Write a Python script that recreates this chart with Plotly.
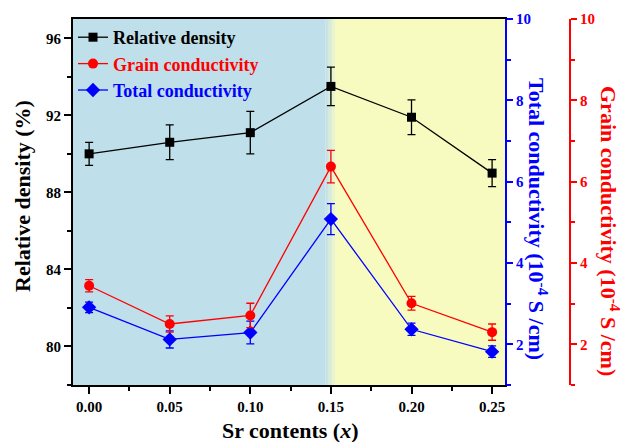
import plotly.graph_objects as go

# ---------------- data ----------------
sr_x = [0.00, 0.05, 0.10, 0.15, 0.20, 0.25]

density = [90.0, 90.6, 91.1, 93.5, 91.9, 89.0]
density_err = [0.6, 0.9, 1.1, 1.0, 0.9, 0.7]

grain_cond = [3.44, 2.50, 2.71, 6.37, 3.01, 2.30]
grain_err = [0.15, 0.20, 0.30, 0.40, 0.17, 0.20]

total_cond = [2.91, 2.12, 2.29, 5.08, 2.37, 1.82]
total_err = [0.13, 0.21, 0.28, 0.38, 0.15, 0.14]

x_ticks = [0.00, 0.05, 0.10, 0.15, 0.20, 0.25]
x_tick_labels = ["0.00", "0.05", "0.10", "0.15", "0.20", "0.25"]
left_ticks = [80, 84, 88, 92, 96]
right_ticks = [2, 4, 6, 8, 10]

# region boundaries (Sr content)
x_min, x_max, x_split = -0.01, 0.258, 0.15

FONT = "Liberation Serif"
BLUE_BG = (191, 223, 234)
YEL_BG = (248, 251, 192)

fig = go.Figure()

fig.add_trace(go.Scatter(
    x=sr_x, y=density, yaxis="y", mode="lines+markers",
    name="<b><span style='color:black'>Relative density</span></b>",
    line=dict(color="black", width=1.3),
    marker=dict(symbol="square", size=9, color="black"),
    error_y=dict(type="data", array=density_err, color="black", thickness=1.3, width=4),
))
fig.add_trace(go.Scatter(
    x=sr_x, y=grain_cond, yaxis="y3", mode="lines+markers",
    name="<b><span style='color:#ff0000'>Grain conductivity</span></b>",
    line=dict(color="#ff0000", width=1.3),
    marker=dict(symbol="circle", size=10, color="#ff0000"),
    error_y=dict(type="data", array=grain_err, color="#ff0000", thickness=1.3, width=4),
))
fig.add_trace(go.Scatter(
    x=sr_x, y=total_cond, yaxis="y2", mode="lines+markers",
    name="<b><span style='color:#0000ff'>Total conductivity</span></b>",
    line=dict(color="#0000ff", width=1.3),
    marker=dict(symbol="diamond", size=11, color="#0000ff"),
    error_y=dict(type="data", array=total_err, color="#0000ff", thickness=1.3, width=4),
))

# background regions with soft edge
shapes = []
g0, g1 = 0.1465, 0.1535
shapes.append(dict(type="rect", xref="x", yref="paper", x0=x_min, x1=g0, y0=0, y1=1,
                   fillcolor="rgb(%d,%d,%d)" % BLUE_BG, line=dict(width=0), layer="below"))
shapes.append(dict(type="rect", xref="x", yref="paper", x0=g1, x1=x_max, y0=0, y1=1,
                   fillcolor="rgb(%d,%d,%d)" % YEL_BG, line=dict(width=0), layer="below"))
n = 8
for i in range(n):
    t = (i + 0.5) / n
    c = tuple(round(BLUE_BG[k] + (YEL_BG[k] - BLUE_BG[k]) * t) for k in range(3))
    shapes.append(dict(type="rect", xref="x", yref="paper",
                       x0=g0 + (g1 - g0) * i / n, x1=g0 + (g1 - g0) * (i + 1) / n + 0.0002,
                       y0=0, y1=1, fillcolor="rgb(%d,%d,%d)" % c, line=dict(width=0), layer="below"))

L, R_MARGIN, T, B = 73, 40, 19, 57
W, H = 625, 442
plot_w = W - L - R_MARGIN
plot_h = H - T - B
dom_end = (505 - L) / plot_w

def px_x(px):
    return (px - L) / plot_w

def px_y(py):
    return 1 - (py - T) / plot_h

tickfont_l = dict(family=FONT, size=15, color="black")

fig.update_layout(
    width=W, height=H,
    margin=dict(l=L, r=R_MARGIN, t=T, b=B, pad=0),
    paper_bgcolor="white", plot_bgcolor="white",
    font=dict(family=FONT, color="black"),
    shapes=shapes,
    showlegend=True,
    legend=dict(x=0.0, y=1.0, xanchor="left", yanchor="top",
                bgcolor="rgba(0,0,0,0)", borderwidth=0,
                font=dict(family=FONT, size=18, color="black"),
                itemwidth=30, tracegroupgap=0),
    xaxis=dict(
        domain=[0, dom_end], range=[x_min, x_max],
        tickvals=x_ticks, ticktext=[f"<b>{t}</b>" for t in x_tick_labels],
        ticks="outside", ticklen=7, tickwidth=1.5, tickcolor="black",
        minor=dict(dtick=0.025, tick0=0, ticks="outside", ticklen=4, tickwidth=1.5, tickcolor="black"),
        showline=True, linecolor="black", linewidth=2, mirror=True,
        showgrid=False, zeroline=False, tickfont=tickfont_l,
    ),
    yaxis=dict(
        range=[78, 97], tickvals=left_ticks, ticktext=[f"<b>{t}</b>" for t in left_ticks],
        ticks="outside", ticklen=7, tickwidth=1.5, tickcolor="black",
        minor=dict(dtick=2, tick0=78, ticks="outside", ticklen=4, tickwidth=1.5, tickcolor="black"),
        showline=True, linecolor="black", linewidth=2,
        showgrid=False, zeroline=False, tickfont=tickfont_l,
    ),
    yaxis2=dict(
        range=[1, 10], overlaying="y", side="right", anchor="x",
        tickvals=right_ticks, ticktext=[f"<b>{t}</b>" for t in right_ticks],
        ticks="outside", ticklen=6, tickwidth=1.5, tickcolor="#0000ff",
        minor=dict(dtick=1, tick0=1, ticks="outside", ticklen=4, tickwidth=1.5, tickcolor="#0000ff"),
        showline=True, linecolor="#0000ff", linewidth=2,
        showgrid=False, zeroline=False,
        tickfont=dict(family=FONT, size=15, color="#0000ff"),
    ),
    yaxis3=dict(
        range=[1, 10], overlaying="y", side="right", anchor="free", position=px_x(570),
        tickvals=right_ticks, ticktext=[f"<b>{t}</b>" for t in right_ticks],
        ticks="outside", ticklen=6, tickwidth=1.5, tickcolor="#ff0000",
        minor=dict(dtick=1, tick0=1, ticks="outside", ticklen=4, tickwidth=1.5, tickcolor="#ff0000"),
        showline=True, linecolor="#ff0000", linewidth=2,
        showgrid=False, zeroline=False,
        tickfont=dict(family=FONT, size=15, color="#ff0000"),
    ),
    annotations=[
        dict(text="<b>Relative density (%)</b>", xref="paper", yref="paper",
             x=px_x(22), y=px_y(196), textangle=-90, showarrow=False,
             xanchor="center", yanchor="middle",
             font=dict(family=FONT, size=22, color="black")),
        dict(text="<b>Total conductivity (10<sup>-4</sup> S /cm)</b>", xref="paper", yref="paper",
             x=px_x(538), y=px_y(219), textangle=90, showarrow=False,
             xanchor="center", yanchor="middle",
             font=dict(family=FONT, size=22, color="#0000ff")),
        dict(text="<b>Grain conductivity (10<sup>-4</sup> S /cm)</b>", xref="paper", yref="paper",
             x=px_x(610), y=px_y(231), textangle=90, showarrow=False,
             xanchor="center", yanchor="middle",
             font=dict(family=FONT, size=22, color="#ff0000")),
        dict(text="<b>Sr contents (<i>x</i>)</b>", xref="paper", yref="paper",
             x=px_x(290), y=px_y(430), showarrow=False,
             xanchor="center", yanchor="middle",
             font=dict(family=FONT, size=22, color="black")),
    ],
)

fig.write_html("out.html")
